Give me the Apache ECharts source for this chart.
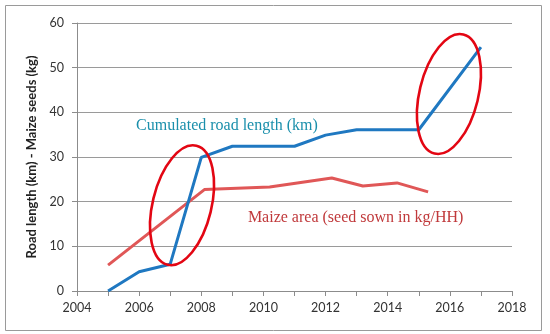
<!DOCTYPE html>
<html>
<head>
<meta charset="utf-8">
<script src="https://cdn.jsdelivr.net/npm/echarts@6/dist/echarts.min.js"></script>
<style>
html,body{margin:0;padding:0;background:#fff;}
#c{width:550px;height:334px;}
</style>
</head>
<body>
<div id="c"></div>
<script>
// Data
var roadYears  = [2005, 2006, 2007, 2008, 2009, 2011, 2012, 2013, 2015, 2017];
var roadKm     = [0, 4.3, 6.0, 29.9, 32.4, 32.4, 34.9, 36.1, 36.1, 54.6];
var maizeYears = [2005, 2008.1, 2010.2, 2012.2, 2013.2, 2014.3, 2015.3];
var maizeKg    = [5.8, 22.7, 23.3, 25.3, 23.5, 24.2, 22.2];
var xTicks = [2004, 2006, 2008, 2010, 2012, 2014, 2016, 2018];
var yTicks = [0, 10, 20, 30, 40, 50, 60];
var roadLabel  = 'Cumulated road length (km)';
var maizeLabel = 'Maize area (seed sown in kg/HH)';
var yAxisName  = 'Road length (km) - Maize seeds (kg)';
// annotation anchors (data coordinates)
var ellipseCenters = [[2007.38, 19.2], [2015.97, 44.1]];
var roadLabelAt  = [2005.9, 36.9];
var maizeLabelAt = [2009.5, 16.5];

function pairs(xs, ys){ return xs.map(function(x,i){ return [x, ys[i]]; }); }

var chart = echarts.init(document.getElementById('c'), null, {renderer:'canvas'});
var labelFont = 'Lato';
chart.setOption({
  animation: false,
  backgroundColor: '#fff',
  grid: {left: 77, right: 38, top: 23, bottom: 43, containLabel: false},
  xAxis: {
    type: 'value', min: xTicks[0], max: xTicks[xTicks.length-1], interval: 1,
    axisLine: {show: true, lineStyle: {color: '#8c8c8c', width: 1}},
    axisTick: {show: true, length: 5, inside: false, lineStyle: {color: '#8c8c8c'}},
    splitLine: {show: false},
    axisLabel: {
      margin: 10, color: '#333', fontFamily: labelFont, fontSize: 12.5,
      formatter: function(v){ return xTicks.indexOf(v) >= 0 ? String(v) : ''; }
    }
  },
  yAxis: {
    type: 'value', min: yTicks[0], max: yTicks[yTicks.length-1], interval: 10,
    name: yAxisName, nameLocation: 'middle', nameGap: 33,
    nameTextStyle: {fontFamily: labelFont, fontWeight: 'bold', fontSize: 13, color: '#222'},
    axisLine: {show: true, lineStyle: {color: '#8c8c8c', width: 1}},
    axisTick: {show: true, length: 5, inside: false, lineStyle: {color: '#8c8c8c'}},
    splitLine: {show: true, lineStyle: {color: '#9a9a9a', width: 1}},
    axisLabel: {margin: 13, color: '#333', fontFamily: labelFont, fontSize: 12.5}
  },
  series: [
    {
      name: roadLabel, type: 'line', data: pairs(roadYears, roadKm),
      showSymbol: false, symbol: 'none',
      lineStyle: {color: '#1f78c1', width: 3}, z: 3
    },
    {
      name: maizeLabel, type: 'line', data: pairs(maizeYears, maizeKg),
      showSymbol: false, symbol: 'none',
      lineStyle: {color: '#e05757', width: 3}, z: 2
    }
  ]
});

function px(p){ return chart.convertToPixel({gridIndex: 0}, p); }
var graphics = [
  {type: 'rect', shape: {x: 5.5, y: 5.5, width: 536, height: 325}, style: {fill: 'none', stroke: '#9a9a9a', lineWidth: 1}, z: 0, silent: true}
];
ellipseCenters.forEach(function(c){
  var p = px(c);
  graphics.push({
    type: 'ellipse', x: p[0], y: p[1], rotation: -13.6 * Math.PI / 180,
    shape: {cx: 0, cy: 0, rx: 29.4, ry: 61.3},
    style: {fill: 'none', stroke: '#e30613', lineWidth: 2.6}, z: 10, silent: true
  });
});
var t1 = px(roadLabelAt), t2 = px(maizeLabelAt);
graphics.push({type: 'text', x: t1[0], y: t1[1], style: {text: roadLabel, fill: '#1a8fab', font: '16px "Liberation Serif"', textVerticalAlign: 'middle', verticalAlign: 'middle'}, z: 10});
graphics.push({type: 'text', x: t2[0], y: t2[1], style: {text: maizeLabel, fill: '#c0393b', font: '16px "Liberation Serif"', textVerticalAlign: 'middle', verticalAlign: 'middle'}, z: 10});
chart.setOption({graphic: graphics});
</script>
</body>
</html>
